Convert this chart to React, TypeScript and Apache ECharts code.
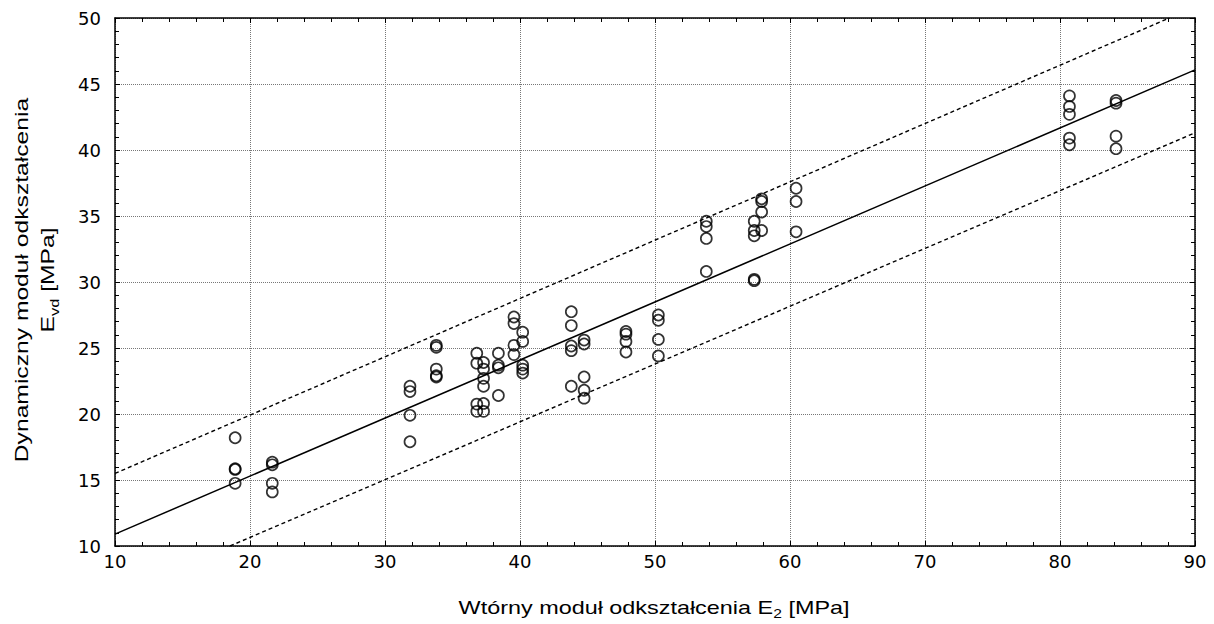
import React, { useEffect, useRef } from "react";
import * as echarts from "echarts";

// Measured pairs: secondary modulus E2 [MPa] and dynamic modulus Evd [MPa]
const e2Values: number[] = [
  18.9, 18.9, 18.9, 18.9,
  21.65, 21.65, 21.65, 21.65,
  31.85, 31.85, 31.85, 31.85,
  33.8, 33.8, 33.8, 33.8, 33.8,
  36.8, 36.8, 36.8, 36.8,
  37.3, 37.3, 37.3, 37.3, 37.3, 37.3,
  38.4, 38.4, 38.4, 38.4,
  39.55, 39.55, 39.55, 39.55,
  40.2, 40.2, 40.2, 40.2, 40.2,
  43.8, 43.8, 43.8, 43.8, 43.8,
  44.75, 44.75, 44.75, 44.75, 44.75,
  47.85, 47.85, 47.85, 47.85,
  50.25, 50.25, 50.25, 50.25,
  53.8, 53.8, 53.8, 53.8,
  57.35, 57.35, 57.35, 57.35, 57.35,
  57.9, 57.9, 57.9, 57.9,
  60.45, 60.45, 60.45,
  80.7, 80.7, 80.7, 80.7, 80.7,
  84.15, 84.15, 84.15, 84.15,
];

const evdValues: number[] = [
  18.2, 15.85, 15.8, 14.75,
  16.35, 16.15, 14.75, 14.1,
  22.1, 21.7, 19.9, 17.9,
  25.2, 25.05, 23.4, 22.9, 22.8,
  24.6, 23.85, 20.75, 20.2,
  23.9, 23.4, 22.7, 22.1, 20.8, 20.2,
  24.6, 23.7, 23.5, 21.4,
  27.35, 26.85, 25.2, 24.5,
  26.2, 25.5, 23.7, 23.4, 23.1,
  27.75, 26.7, 25.15, 24.8, 22.1,
  25.6, 25.3, 22.8, 21.8, 21.2,
  26.25, 26.05, 25.5, 24.7,
  27.5, 27.1, 25.65, 24.4,
  34.6, 34.2, 33.3, 30.8,
  34.6, 33.9, 33.5, 30.2, 30.1,
  36.3, 36.1, 35.3, 33.9,
  37.1, 36.1, 33.8,
  44.1, 43.3, 42.7, 40.9, 40.4,
  43.75, 43.55, 41.05, 40.1,
];

// Fitted regression line and the dashed band around it (end points)
const fitLine: [number, number][] = [[10, 10.9], [90, 46.07]];
const upperBand: [number, number][] = [[10, 15.5], [88.1, 50]];
const lowerBand: [number, number][] = [[18.52, 10], [90, 41.3]];

const xRange = { min: 10, max: 90, interval: 10 };
const yRange = { min: 10, max: 50, interval: 5 };

const xTitle = "Wtórny moduł odkształcenia E{sub|2} [MPa]";
const yTitle = "Dynamiczny moduł odkształcenia\nE{sub|vd} [MPa]";

const TICK_FONT = "DejaVu Sans";
const TITLE_FONT = "Liberation Sans";

export default function App() {
  const ref = useRef<HTMLDivElement>(null);

  useEffect(() => {
    document.body.style.margin = "0";
    const chart = echarts.init(ref.current!, null, { renderer: "svg" });

    const points = e2Values.map((x, i) => [x, evdValues[i]]);

    const rich = {
      sub: { fontSize: 12, fontFamily: TITLE_FONT, fill: "#000", verticalAlign: "bottom" },
    };

    const tickStyle = { color: "#000", width: 1 };
    const baseX = {
      type: "value" as const,
      min: xRange.min,
      max: xRange.max,
      interval: xRange.interval,
      axisLine: { show: true, onZero: false, lineStyle: { color: "#000", width: 1.5 } },
      axisTick: { show: true, inside: true, length: 5, lineStyle: tickStyle },
      minorTick: { show: true, splitNumber: 5, length: 4, lineStyle: tickStyle },
    };
    const baseY = {
      type: "value" as const,
      min: yRange.min,
      max: yRange.max,
      interval: yRange.interval,
      axisLine: { show: true, onZero: false, lineStyle: { color: "#000", width: 1.5 } },
      axisTick: { show: true, inside: true, length: 5, lineStyle: tickStyle },
      minorTick: { show: true, splitNumber: 5, length: 4, lineStyle: tickStyle },
    };
    const gridLine = { show: true, lineStyle: { type: "dotted", color: "#777", width: 1 } };

    chart.setOption({
      animation: false,
      backgroundColor: "#fff",
      grid: { left: 115, right: 19, top: 18, bottom: 78, containLabel: false },
      xAxis: [
        {
          ...baseX,
          position: "bottom",
          axisLabel: { fontFamily: TICK_FONT, fontSize: 18, color: "#000", margin: 6 },
          splitLine: gridLine,
        },
        { ...baseX, position: "top", axisLabel: { show: false }, splitLine: { show: false } },
      ],
      yAxis: [
        {
          ...baseY,
          position: "left",
          axisLabel: { fontFamily: TICK_FONT, fontSize: 18, color: "#000", margin: 14 },
          splitLine: gridLine,
        },
        { ...baseY, position: "right", axisLabel: { show: false }, splitLine: { show: false } },
      ],
      graphic: [
        {
          type: "text",
          x: 654,
          y: 608,
          scaleX: 1.3,
          style: {
            text: xTitle,
            rich,
            fontFamily: TITLE_FONT,
            fontSize: 18,
            lineHeight: 24,
            fill: "#000",
            align: "center",
            verticalAlign: "middle",
          },
        },
        {
          type: "text",
          x: 35,
          y: 280,
          rotation: Math.PI / 2,
          scaleX: 1.37,
          style: {
            text: yTitle,
            rich,
            fontFamily: TITLE_FONT,
            fontSize: 18,
            lineHeight: 26,
            fill: "#000",
            align: "center",
            verticalAlign: "middle",
          },
        },
      ],
      series: [
        {
          type: "line",
          data: upperBand,
          symbol: "none",
          lineStyle: { color: "#000", width: 1.4, type: [4, 3] },
          z: 3,
        },
        {
          type: "line",
          data: lowerBand,
          symbol: "none",
          lineStyle: { color: "#000", width: 1.4, type: [4, 3] },
          z: 3,
        },
        {
          type: "line",
          data: fitLine,
          symbol: "none",
          lineStyle: { color: "#000", width: 1.5 },
          z: 3,
        },
        {
          type: "scatter",
          data: points,
          symbol: "circle",
          symbolSize: 11,
          itemStyle: { color: "rgba(0,0,0,0)", borderColor: "#000", borderWidth: 1.7 },
          z: 4,
        },
      ],
    });

    return () => chart.dispose();
  }, []);

  return <div ref={ref} style={{ width: 1214, height: 624 }} />;
}
